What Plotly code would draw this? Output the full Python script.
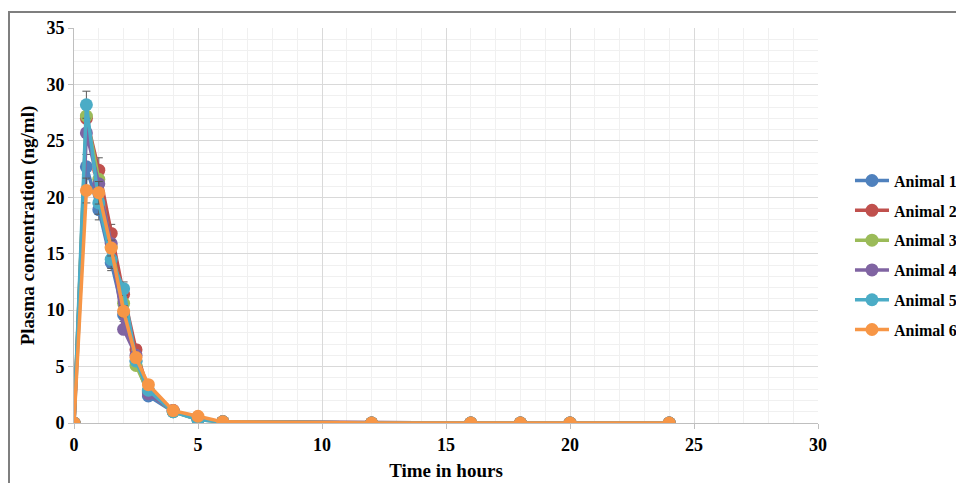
import plotly.graph_objects as go

time_h = [0, 0.5, 1, 1.5, 2, 2.5, 3, 4, 5, 6, 12, 16, 18, 20, 24]

animal_1 = [0, 22.7, 18.9, 14.2, 9.6, 5.5, 2.4, 1.0, 0.3, 0.1, 0, 0, 0, 0, 0]
animal_2 = [0, 27.0, 22.4, 16.8, 11.4, 6.5, 2.8, 1.1, 0.4, 0.1, 0, 0, 0, 0, 0]
animal_3 = [0, 27.2, 21.6, 15.6, 10.6, 5.1, 2.7, 1.0, 0.3, 0.1, 0, 0, 0, 0, 0]
animal_4 = [0, 25.7, 21.2, 15.9, 8.3, 6.0, 2.6, 1.1, 0.4, 0.1, 0, 0, 0, 0, 0]
animal_5 = [0, 28.2, 19.5, 14.5, 11.9, 5.5, 2.9, 1.0, 0.3, 0.1, 0, 0, 0, 0, 0]
animal_6 = [0, 20.6, 20.4, 15.5, 9.9, 5.8, 3.4, 1.1, 0.6, 0.1, 0, 0, 0, 0, 0]

err_1 = [0, 1.1, 0.9, 0.7, 0.6, 0.4, 0.2, 0.1, 0, 0, 0, 0, 0, 0, 0]
err_2 = [0, 1.0, 1.1, 0.8, 0.6, 0.4, 0.2, 0.1, 0, 0, 0, 0, 0, 0, 0]
err_5 = [0, 1.2, 1.0, 0.8, 0.6, 0.4, 0.2, 0.1, 0, 0, 0, 0, 0, 0, 0]
err_6 = [0, 1.1, 1.0, 0.7, 0.5, 0.4, 0.2, 0.1, 0, 0, 0, 0, 0, 0, 0]
err_0 = [0] * len(time_h)

names = ["Animal 1", "Animal 2", "Animal 3", "Animal 4", "Animal 5", "Animal 6"]
series = [animal_1, animal_2, animal_3, animal_4, animal_5, animal_6]
errors = [err_1, err_2, err_0, err_0, err_5, err_6]
colors = ["#4F81BD", "#C0504D", "#9BBB59", "#8064A2", "#4BACC6", "#F79646"]

fig = go.Figure()
for i, (n, ys, es, c) in enumerate(zip(names, series, errors, colors)):
    fig.add_trace(go.Scatter(
        x=time_h, y=ys, name=n, mode="lines+markers",
        line=dict(color=c, width=3.5),
        marker=dict(color=c, size=13),
        error_y=dict(type="data", array=es, visible=True, color="#595959",
                     thickness=1, width=4),
        legendgroup=n,
    ))

font_serif = "Liberation Serif"

fig.update_layout(
    width=964, height=483,
    margin=dict(l=66, r=154, t=20, b=68, autoexpand=False),
    paper_bgcolor="white", plot_bgcolor="white",
    font=dict(family=font_serif, color="black"),
    showlegend=True,
    legend=dict(x=1.043, y=0.425, xanchor="left", yanchor="middle",
                font=dict(family=font_serif, size=16, color="black", weight="bold"),
                itemwidth=34,
                tracegroupgap=6, bgcolor="rgba(0,0,0,0)"),
    xaxis=dict(
        range=[0, 30], tickvals=[0, 5, 10, 15, 20, 25, 30],
        automargin=False,
        showgrid=True, gridcolor="#D9D9D9", gridwidth=1,
        minor=dict(dtick=1, showgrid=True, gridcolor="#F0F0F0", gridwidth=1),
        showline=True, linecolor="#BFBFBF", linewidth=1,
        ticks="outside", ticklen=5, tickcolor="#BFBFBF",
        zeroline=False,
        tickfont=dict(family=font_serif, size=18, color="black", weight="bold"),
        title=dict(text="Time in hours", standoff=10,
                   font=dict(family=font_serif, size=19, color="black", weight="bold")),
    ),
    yaxis=dict(
        range=[0, 35], tickvals=[0, 5, 10, 15, 20, 25, 30, 35],
        automargin=False,
        showgrid=True, gridcolor="#D9D9D9", gridwidth=1,
        minor=dict(dtick=1, showgrid=True, gridcolor="#F0F0F0", gridwidth=1),
        showline=True, linecolor="#BFBFBF", linewidth=1,
        ticks="outside", ticklen=5, tickcolor="#BFBFBF",
        zeroline=False,
        tickfont=dict(family=font_serif, size=18, color="black", weight="bold"),
        title=dict(text="Plasma concentration (ng/ml)", standoff=6,
                   font=dict(family=font_serif, size=19, color="black", weight="bold")),
    ),
)

# outer chart frame (extends beyond the visible right and bottom edges)
fig.add_shape(type="rect", xref="paper", yref="paper",
              x0=(1 - 66) / 744, x1=1.3, y0=-0.3, y1=(415 - 4) / 395,
              line=dict(color="#7F7F7F", width=2), layer="below")

fig.write_html("out.html")
